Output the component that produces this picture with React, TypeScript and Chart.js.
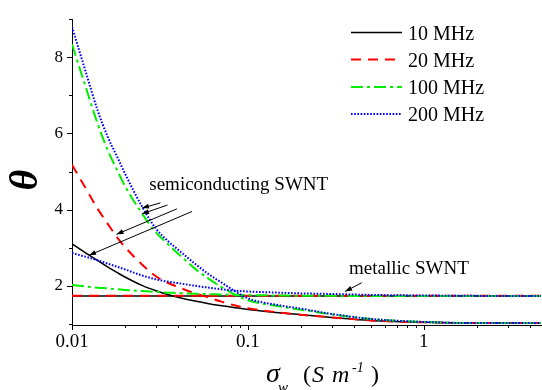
import React, { useEffect, useRef } from 'react';
import { Chart, registerables } from 'chart.js';

Chart.register(...registerables);

// conductivity sigma_w (S/m)
const sigma = [0.01, 0.012, 0.014, 0.016, 0.018, 0.02, 0.025, 0.03, 0.035, 0.04, 0.05, 0.06, 0.07, 0.085, 0.1, 0.15, 0.2, 0.3, 0.5, 1, 2, 5];

// semiconducting SWNT
const semi10 = [3.10, 2.86, 2.66, 2.49, 2.35, 2.23, 2.01, 1.87, 1.77, 1.70, 1.60, 1.53, 1.48, 1.42, 1.38, 1.29, 1.24, 1.17, 1.09, 1.04, 1.02, 1.02];
const semi20 = [5.18, 4.55, 4.02, 3.62, 3.28, 3.02, 2.56, 2.25, 2.08, 1.97, 1.80, 1.69, 1.59, 1.48, 1.41, 1.30, 1.24, 1.17, 1.09, 1.04, 1.02, 1.02];
const semi100 = [8.34, 7.20, 6.25, 5.55, 5.05, 4.62, 3.90, 3.40, 3.10, 2.85, 2.45, 2.18, 1.98, 1.76, 1.62, 1.46, 1.37, 1.25, 1.13, 1.05, 1.02, 1.02];
const semi200 = [8.80, 7.60, 6.60, 5.90, 5.40, 4.95, 4.08, 3.50, 3.18, 2.95, 2.58, 2.30, 2.10, 1.85, 1.67, 1.49, 1.40, 1.26, 1.13, 1.05, 1.02, 1.02];

// metallic SWNT
const metal10 = [1.73, 1.73, 1.73, 1.73, 1.73, 1.73, 1.73, 1.73, 1.73, 1.73, 1.73, 1.73, 1.73, 1.73, 1.73, 1.73, 1.73, 1.73, 1.73, 1.73, 1.73, 1.73];
const metal20 = [1.735, 1.735, 1.735, 1.735, 1.735, 1.735, 1.735, 1.735, 1.735, 1.735, 1.735, 1.735, 1.735, 1.735, 1.735, 1.735, 1.735, 1.735, 1.735, 1.735, 1.735, 1.735];
const metal100 = [2.02, 1.98, 1.95, 1.93, 1.91, 1.89, 1.86, 1.84, 1.82, 1.81, 1.79, 1.78, 1.77, 1.76, 1.755, 1.745, 1.74, 1.735, 1.73, 1.73, 1.73, 1.73];
const metal200 = [2.86, 2.76, 2.67, 2.58, 2.50, 2.43, 2.27, 2.17, 2.11, 2.07, 2.00, 1.95, 1.91, 1.87, 1.85, 1.82, 1.80, 1.785, 1.76, 1.745, 1.735, 1.73];

const seriesLabels = ['10 MHz', '20 MHz', '100 MHz', '200 MHz'];

const xTickLabels = [0.01, 0.1, 1];
const xMinorTicks = [0.02, 0.03, 0.04, 0.05, 0.06, 0.07, 0.08, 0.09, 0.2, 0.3, 0.4, 0.5, 0.6, 0.7, 0.8, 0.9, 2, 3, 4];
const yTickLabels = [2, 4, 6, 8];
const yMinorTicks = [1, 3, 5, 7, 9];

// annotations (data coordinates)
const semiText = 'semiconducting SWNT';
const semiTextAt = [0.0275, 4.52];
const semiArrowTails = [[0.0318, 4.175], [0.0349, 4.12], [0.0395, 4.02], [0.0481, 3.95]];
const semiArrowHeads = [[0.025, 4.04], [0.025, 3.89], [0.0179, 3.35], [0.0125, 2.80]];
const metalText = 'metallic SWNT';
const metalTextAt = [0.376, 2.32];
const metalArrowTail = [0.444, 2.08];
const metalArrowHead = [0.357, 1.85];

const SERIF = '"Liberation Serif", "Times New Roman", serif';

const styles = [
  { color: '#000000', dash: [] as number[], width: 1.5 },
  { color: '#ff0000', dash: [10, 7], width: 2 },
  { color: '#00ee00', dash: [12, 4, 3, 4], width: 2 },
  { color: '#0000ff', dash: [1.6, 1.6], width: 2 },
];

function drawArrow(ctx: CanvasRenderingContext2D, x1: number, y1: number, x2: number, y2: number) {
  ctx.beginPath();
  ctx.moveTo(x1, y1);
  ctx.lineTo(x2, y2);
  ctx.stroke();
  const a = Math.atan2(y2 - y1, x2 - x1);
  const L = 7, W = 2.5;
  ctx.beginPath();
  ctx.moveTo(x2, y2);
  ctx.lineTo(x2 - L * Math.cos(a) + W * Math.sin(a), y2 - L * Math.sin(a) - W * Math.cos(a));
  ctx.lineTo(x2 - L * Math.cos(a) - W * Math.sin(a), y2 - L * Math.sin(a) + W * Math.cos(a));
  ctx.closePath();
  ctx.fill();
}

const overlay = {
  id: 'overlay',
  afterDraw(chart: any) {
    const { ctx, chartArea } = chart;
    const xs = chart.scales.x;
    const ys = chart.scales.y;
    ctx.save();
    ctx.strokeStyle = '#000';
    ctx.fillStyle = '#000';
    ctx.lineWidth = 1;
    ctx.setLineDash([]);

    // x ticks
    const b = chartArea.bottom;
    const drawXTick = (v: number, len: number) => {
      const px = Math.round(xs.getPixelForValue(v)) + 0.5;
      ctx.beginPath();
      ctx.moveTo(px, b);
      ctx.lineTo(px, b + len);
      ctx.stroke();
    };
    xTickLabels.forEach((v) => drawXTick(v, 5));
    xMinorTicks.forEach((v) => drawXTick(v, 3));

    // y ticks
    const l = chartArea.left;
    const drawYTick = (v: number, len: number) => {
      const py = Math.round(ys.getPixelForValue(v)) + 0.5;
      ctx.beginPath();
      ctx.moveTo(l, py);
      ctx.lineTo(l - len, py);
      ctx.stroke();
    };
    yTickLabels.forEach((v) => drawYTick(v, 5));
    yMinorTicks.forEach((v) => drawYTick(v, 3));

    // annotations
    ctx.font = `19px ${SERIF}`;
    ctx.textAlign = 'left';
    ctx.textBaseline = 'alphabetic';
    ctx.fillText(semiText, xs.getPixelForValue(semiTextAt[0]), ys.getPixelForValue(semiTextAt[1]));
    ctx.fillText(metalText, xs.getPixelForValue(metalTextAt[0]), ys.getPixelForValue(metalTextAt[1]));
    semiArrowTails.forEach((t, i) => {
      const h = semiArrowHeads[i];
      drawArrow(ctx, xs.getPixelForValue(t[0]), ys.getPixelForValue(t[1]), xs.getPixelForValue(h[0]), ys.getPixelForValue(h[1]));
    });
    drawArrow(ctx, xs.getPixelForValue(metalArrowTail[0]), ys.getPixelForValue(metalArrowTail[1]),
      xs.getPixelForValue(metalArrowHead[0]), ys.getPixelForValue(metalArrowHead[1]));

    // legend
    const lx1 = 351, lx2 = 402, tx = 408;
    const rows = [32.5, 59.5, 87, 114];
    seriesLabels.forEach((lab, i) => {
      const s = styles[i];
      ctx.strokeStyle = s.color;
      ctx.lineWidth = s.width;
      ctx.setLineDash(s.dash);
      ctx.beginPath();
      ctx.moveTo(lx1, rows[i]);
      ctx.lineTo(lx2, rows[i]);
      ctx.stroke();
      ctx.setLineDash([]);
      ctx.fillStyle = '#000';
      ctx.font = `20px ${SERIF}`;
      ctx.fillText(lab, tx, rows[i] + 7);
    });

    // axis titles
    ctx.fillStyle = '#000';
    ctx.save();
    ctx.translate(27, 180);
    ctx.rotate(-Math.PI / 2);
    ctx.font = `italic bold 40px ${SERIF}`;
    ctx.textAlign = 'center';
    ctx.textBaseline = 'middle';
    ctx.fillText('θ', 0, 0);
    ctx.restore();

    ctx.textAlign = 'left';
    ctx.textBaseline = 'alphabetic';
    ctx.font = `italic 28px ${SERIF}`;
    ctx.fillText('σ', 266, 382);
    ctx.font = `italic 15px ${SERIF}`;
    ctx.fillText('w', 278, 392);
    ctx.font = `24px ${SERIF}`;
    ctx.fillText('(', 303, 382);
    ctx.font = `italic 24px ${SERIF}`;
    ctx.fillText('S', 312, 382);
    ctx.fillText('m', 332, 382);
    ctx.font = `italic 14px ${SERIF}`;
    ctx.fillText('-1', 352, 372);
    ctx.font = `24px ${SERIF}`;
    ctx.fillText(')', 371, 382);

    ctx.restore();
  },
};

export default function App() {
  const ref = useRef<HTMLCanvasElement | null>(null);
  useEffect(() => {
    document.body.style.margin = '0';
    const canvas = ref.current;
    if (!canvas) return;
    const mk = (label: string, data: number[], i: number, order: number) => ({
      label,
      data: sigma.map((x, k) => ({ x, y: data[k] })),
      borderColor: styles[i].color,
      borderWidth: styles[i].width,
      borderDash: styles[i].dash,
      borderCapStyle: 'butt' as const,
      pointRadius: 0,
      fill: false,
      cubicInterpolationMode: 'monotone' as const,
      order,
    });
    const chart = new Chart(canvas, {
      type: 'line',
      data: {
        datasets: [
          mk('10 MHz semiconducting', semi10, 0, 8),
          mk('10 MHz metallic', metal10, 0, 7),
          mk('20 MHz semiconducting', semi20, 1, 6),
          mk('20 MHz metallic', metal20, 1, 5),
          mk('100 MHz semiconducting', semi100, 2, 4),
          mk('100 MHz metallic', metal100, 2, 3),
          mk('200 MHz semiconducting', semi200, 3, 2),
          mk('200 MHz metallic', metal200, 3, 1),
        ],
      },
      options: {
        responsive: false,
        animation: false,
        devicePixelRatio: 1,
        layout: { padding: { top: 13, right: 1, left: 0, bottom: 0 } },
        plugins: {
          legend: { display: false },
          tooltip: { enabled: false },
          title: { display: false },
        },
        scales: {
          x: {
            type: 'logarithmic',
            min: 0.01,
            max: 4.64,
            grid: { display: false, drawTicks: false },
            border: { display: true, color: '#000', width: 1 },
            ticks: {
              font: { family: SERIF, size: 19 },
              color: '#000',
              padding: 6,
              autoSkip: false,
              maxRotation: 0,
              callback: (v: any) => String(v),
            },
            afterBuildTicks: (s: any) => {
              s.ticks = xTickLabels.map((v) => ({ value: v }));
            },
            afterFit: (s: any) => {
              s.height = 65;
            },
          },
          y: {
            type: 'linear',
            min: 0.97,
            max: 9,
            grid: { display: false, drawTicks: false },
            border: { display: true, color: '#000', width: 1 },
            ticks: {
              font: { family: SERIF, size: 17 },
              color: '#000',
              padding: 9,
              autoSkip: false,
              callback: (v: any) => String(v),
            },
            afterBuildTicks: (s: any) => {
              s.ticks = yTickLabels.map((v) => ({ value: v }));
            },
            afterFit: (s: any) => {
              s.width = 72;
            },
          },
        },
      } as any,
      plugins: [overlay],
    });
    return () => chart.destroy();
  }, []);
  return (
    <div style={{ width: 542, height: 390 }}>
      <canvas ref={ref} width={542} height={390} style={{ width: 542, height: 390, display: 'block' }} />
    </div>
  );
}
